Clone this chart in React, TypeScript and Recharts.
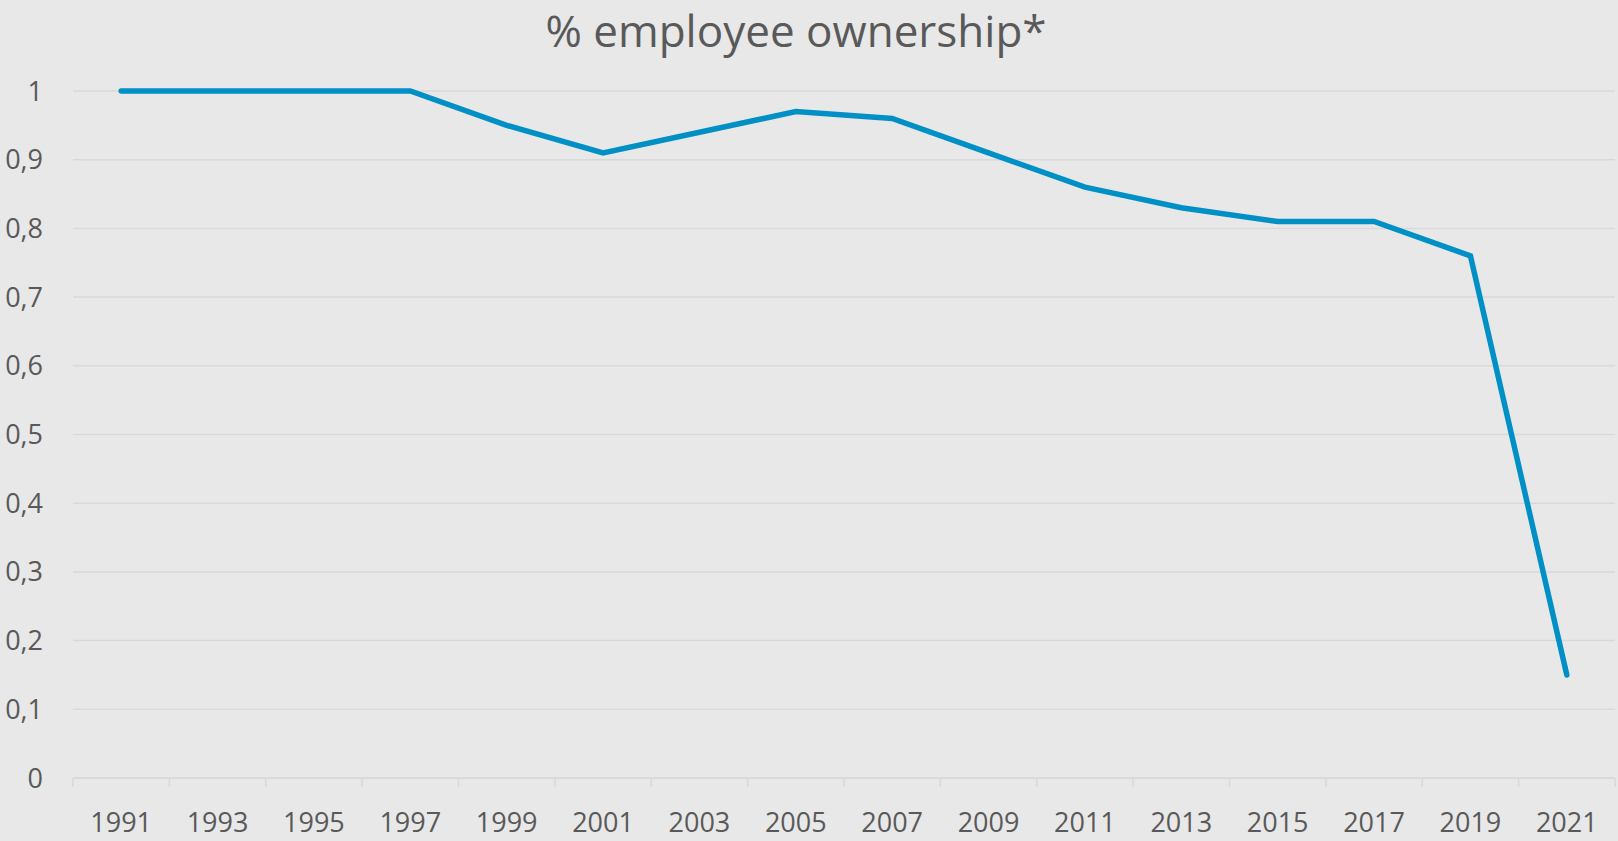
import React from 'react';
import { LineChart, Line, XAxis, YAxis, CartesianGrid } from 'recharts';

const years = ['1991', '1993', '1995', '1997', '1999', '2001', '2003', '2005', '2007', '2009', '2011', '2013', '2015', '2017', '2019', '2021'];
const ownership = [1, 1, 1, 1, 0.95, 0.91, 0.94, 0.97, 0.96, 0.91, 0.86, 0.83, 0.81, 0.81, 0.76, 0.15];
const yTicks = [0, 0.1, 0.2, 0.3, 0.4, 0.5, 0.6, 0.7, 0.8, 0.9, 1];

const data = years.map((year, i) => ({ year, value: ownership[i] }));

const W = 1618;
const H = 841;
const FONT = '"Open Sans", sans-serif';
const TEXT = '#595959';
const GRID = '#d9d9d9';
const HALF = 1542 / years.length / 2;

const XTick = (props: any) => {
  const { x, y, payload, index } = props;
  return (
    <g>
      <line x1={x - HALF} x2={x - HALF} y1={y} y2={y + 9} stroke={GRID} strokeWidth={1.5} />
      {index === years.length - 1 && (
        <line x1={x + HALF} x2={x + HALF} y1={y} y2={y + 9} stroke={GRID} strokeWidth={1.5} />
      )}
      <text x={x} y={y + 54} textAnchor="middle" fill={TEXT} fontSize={27} fontFamily={FONT}>
        {payload.value}
      </text>
    </g>
  );
};

export default function App() {
  return (
    <div style={{ position: 'absolute', left: 0, top: 0, width: W, height: H, background: '#e8e8e8', fontFamily: FONT }}>
      <div
        style={{
          position: 'absolute',
          left: 796 - 400,
          width: 800,
          top: 0,
          textAlign: 'center',
          fontSize: 44,
          color: TEXT,
          lineHeight: '60px',
        }}
      >
        % employee ownership*
      </div>
      <LineChart width={W} height={H} data={data} margin={{ top: 91, right: 3, left: 0, bottom: 0 }}>
        <CartesianGrid vertical={false} stroke={GRID} strokeWidth={1.5} />
        <XAxis
          dataKey="year"
          interval={0}
          height={63}
          padding={{ left: HALF, right: HALF }}
          tickLine={false}
          tickSize={0}
          tickMargin={0}
          axisLine={{ stroke: GRID, strokeWidth: 1.5 }}
          tick={<XTick />}
        />
        <YAxis
          width={73}
          domain={[0, 1]}
          ticks={yTicks}
          axisLine={false}
          tickLine={false}
          tickSize={0}
          tickMargin={30}
          tickFormatter={(v: number) => String(Math.round(v * 10) / 10).replace('.', ',')}
          tick={{ fill: TEXT, fontSize: 27, fontFamily: FONT }}
        />
        <Line
          type="linear"
          dataKey="value"
          stroke="#0090c6"
          strokeWidth={5.5}
          strokeLinecap="round"
          dot={false}
          activeDot={false}
          isAnimationActive={false}
        />
      </LineChart>
    </div>
  );
}
